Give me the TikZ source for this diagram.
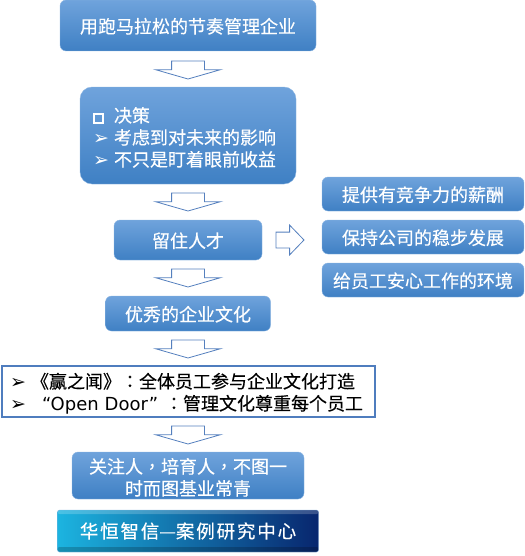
\documentclass[tikz,border=0pt]{standalone}
\usepackage{fontspec}
\setmainfont{Noto Sans CJK SC}[FakeBold=0.3]
\newfontfamily\tcfont{Noto Sans CJK TC}[FakeBold=0.3]
\newfontfamily\symfont{DejaVu Sans}
\usetikzlibrary{positioning, shapes.arrows}
\definecolor{boxTop}{HTML}{6FA3DC}
\definecolor{boxBottom}{HTML}{3F80C4}
\definecolor{boxEdge}{HTML}{8DB6E2}
\definecolor{arrowEdge}{HTML}{5580BE}
\definecolor{noteEdge}{HTML}{4F7DBE}
\definecolor{logoLeft}{HTML}{1CB4E0}
\definecolor{logoMid}{HTML}{0B62A8}
\definecolor{logoRight}{HTML}{08266E}
\newcommand{\bodysize}{\fontsize{18}{22}\selectfont}
\newcommand{\bulletmark}{\makebox[21pt][l]{{\symfont\fontsize{19}{22}\selectfont ➢}}}
\newcommand{\squaremark}{\makebox[21pt][l]{\raisebox{0.5pt}{\fboxsep=0pt\fboxrule=2pt\fbox{\phantom{\rule{7pt}{7pt}}}}}}
\newcommand{\punct}[1]{{\tcfont #1}}
\newcommand{\lowerline}{\rule{0pt}{19pt}}
\tikzset{
  boxB/.style={rectangle, rounded corners=6pt, draw=boxEdge, top color=boxTop,
               bottom color=boxBottom, text=white, align=center, font=\bodysize,
               inner sep=0pt, outer sep=0pt},
  boxOne/.style={boxB, text depth=0pt},
  arrowDown/.style={single arrow, draw=arrowEdge, line width=0.8pt, fill=white, shape border rotate=270,
                    single arrow head extend=16pt, single arrow tip angle=148,
                    minimum width=64pt, minimum height=18pt, inner xsep=16pt, inner ysep=0pt, outer sep=0pt},
  arrowRight/.style={single arrow, draw=arrowEdge, line width=0.8pt, fill=white,
                     single arrow head extend=7pt, single arrow tip angle=92,
                     minimum width=29pt, minimum height=28pt, inner xsep=0pt, inner ysep=7.5pt, outer sep=0pt},
}
\begin{document}
\begin{tikzpicture}[x=1pt, y=1pt]
    \useasboundingbox (0,0) rectangle (524,-556);
    \node[boxOne, minimum width=256pt, minimum height=51pt] (manage) at (188,-25.5)
      {用跑马拉松的节奏管理企业};
    \node[arrowDown, below=10pt of manage] (a1) {};
    \node[boxB, rounded corners=12pt, minimum width=216pt, minimum height=97pt,
          below=8pt of a1, text width=190pt, align=left] (decide)
      {\lowerline\squaremark 决策\\
       \bulletmark 考虑到对未来的影响\\
       \bulletmark 不只是盯着眼前收益};
    \node[arrowDown, below=9pt of decide] (a2) {};
    \node[boxOne, minimum width=148pt, minimum height=40pt, below=9pt of a2] (keep) {留住人才};
    \node[arrowDown, below=9pt of keep] (a3) {};
    \node[boxOne, minimum width=165pt, minimum height=35pt, below=9pt of a3] (culture) {优秀的企业文化};
    \node[arrowDown, below=9pt of culture] (a4) {};
    % white note box
    \node[rectangle, draw=noteEdge, line width=2pt, fill=white, text=black, text width=356pt,
          align=left, font=\bodysize, minimum width=373pt, minimum height=51pt, inner sep=0pt,
          outer sep=0pt, below=8pt of a4] (note)
      {\lowerline\bulletmark 《赢之闻》\punct{：}全体员工参与企业文化打造\\
       \bulletmark \makebox[134pt][l]{\hspace{11pt}{\symfont “Open Door”}}\punct{：}管理文化尊重每个员工};
    \node[arrowDown, below=9pt of note] (a5) {};
    \node[boxB, minimum width=232pt, minimum height=47pt, below=8pt of a5] (care)
      {\lowerline 关注人\punct{，}培育人\punct{，}不图一\\时而图基业常青};
    \node[rectangle, rounded corners=2pt, draw=boxEdge, left color=logoLeft, middle color=logoMid,
          right color=logoRight, text=white, font=\fontsize{18.5}{22}\selectfont,
          minimum width=261pt, minimum height=42pt, inner sep=0pt, outer sep=0pt,
          path picture={
            \fill[white, opacity=.2] (path picture bounding box.north west) rectangle
              ([yshift=-4pt]path picture bounding box.north east);
            \fill[black, opacity=.2] (path picture bounding box.south west) rectangle
              ([yshift=5pt]path picture bounding box.south east);
          }, below=11pt of care] (logo)
      {\addfontfeature{LetterSpace=10}华恒智信\punct{—}案例研究中心};
    % right column
    \node[arrowRight, right=14pt of keep] (ar) {};
    \node[boxOne, minimum width=202pt, minimum height=34pt, right=18pt of ar, yshift=3pt] (keepB) {保持公司的稳步发展};
    \node[boxOne, minimum width=202pt, minimum height=34pt, above=9pt of keepB] (keepA) {提供有竞争力的薪酬};
    \node[boxOne, minimum width=202pt, minimum height=34pt, below=9pt of keepB] (keepC) {给员工安心工作的环境};
  \end{tikzpicture}
\end{document}
